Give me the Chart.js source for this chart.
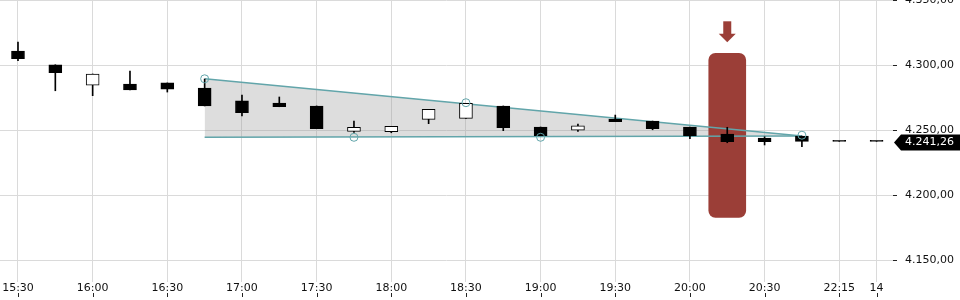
<!DOCTYPE html>
<html>
<head>
<meta charset="utf-8">
<script src="https://cdn.jsdelivr.net/npm/chart.js@4/dist/chart.umd.min.js"></script>
<style>
  html, body { margin: 0; padding: 0; background: #fff; }
  #wrap { width: 960px; height: 300px; }
</style>
</head>
<body>
<div id="wrap"><canvas id="graph" width="960" height="300"></canvas></div>
<script>
// 15 minute candles, category index = position on the axis
var times = ["15:30", "15:45", "16:00", "16:15", "16:30", "16:45", "17:00", "17:15",
  "17:30", "17:45", "18:00", "18:15", "18:30", "18:45", "19:00", "19:15",
  "19:30", "19:45", "20:00", "20:15", "20:30", "20:45", "22:15", "14"];
var tickIdx = [0, 2, 4, 6, 8, 10, 12, 14, 16, 18, 20, 22, 23];

var open  = [4310.8, 4300.2, 4284.4, 4285.4, 4286.2, 4282.3, 4272.5, 4270.8, 4268.5, 4249.0, 4248.7, 4258.2,
             4259.0, 4268.5, 4252.3, 4249.8, 4258.5, 4256.9, 4252.3, 4246.9, 4243.8, 4245.4, 4241.26, 4241.26];
var high  = [4317.7, 4300.2, 4293.1, 4295.4, 4286.2, 4289.2, 4276.9, 4275.4, 4268.5, 4256.9, 4252.8, 4265.9,
             4270.5, 4268.5, 4252.3, 4254.6, 4261.5, 4256.9, 4252.3, 4252.1, 4244.8, 4245.4, 4241.26, 4241.26];
var low   = [4303.3, 4280.2, 4276.4, 4280.8, 4279.2, 4268.5, 4260.8, 4267.9, 4251.0, 4248.2, 4247.9, 4254.9,
             4259.0, 4249.5, 4245.6, 4249.0, 4256.4, 4250.2, 4243.3, 4240.2, 4238.5, 4237.2, 4241.26, 4241.26];
var close = [4304.8, 4294.1, 4293.1, 4280.8, 4281.5, 4268.5, 4263.3, 4267.9, 4251.0, 4252.1, 4252.8, 4265.9,
             4270.5, 4251.8, 4245.6, 4253.2, 4256.4, 4251.0, 4245.6, 4241.0, 4241.0, 4241.3, 4241.26, 4241.26];

// triangle pattern
var upperLine = [[5, 4289.4], [21, 4245.4]];
var lowerLine = [[5, 4244.4], [21, 4245.4]];
var pivotX = [5, 9, 12, 14, 21];
var pivotY = [4289.4, 4244.4, 4271.0, 4244.4, 4246.0];

// sell signal
var signalIdx = 19;
var signalRange = [4182.8, 4309.0];

var lastPrice = 4241.26;
var yTicks = [4150, 4200, 4250, 4300, 4350];

var teal = "#62a5aa";
var red = "#9b3e37";
var gridColor = "#dadada";
var font = { family: "DejaVu Sans", size: 11 };

function fmt(v) {
  return v.toFixed(2).replace(".", ",").replace(/\B(?=(\d{3})+(?!\d))/g, ".");
}

var extras = {
  id: "extras",
  afterDraw: function(chart) {
    var c = chart.ctx, xs = chart.scales.x, ys = chart.scales.y;
    c.save();
    // little ticks under the time labels
    c.fillStyle = "#222";
    tickIdx.forEach(function(i) {
      c.fillRect(Math.round(xs.getPixelForValue(i)), 293, 1, 4);
    });
    // arrow above the signal box
    var ax = xs.getPixelForValue(signalIdx);
    var top = ys.getPixelForValue(signalRange[1]);
    c.fillStyle = red;
    c.fillRect(ax - 4, top - 32, 8, 14);
    c.beginPath();
    c.moveTo(ax - 8.5, top - 19.5);
    c.lineTo(ax + 8.5, top - 19.5);
    c.lineTo(ax, top - 11);
    c.closePath();
    c.fill();
    // last price badge
    var py = ys.getPixelForValue(lastPrice) + 1;
    c.fillStyle = "#000";
    c.beginPath();
    c.moveTo(894, py);
    c.lineTo(901, py - 8);
    c.lineTo(960, py - 8);
    c.lineTo(960, py + 8);
    c.lineTo(901, py + 8);
    c.closePath();
    c.fill();
    c.fillStyle = "#fff";
    c.font = "11px 'DejaVu Sans'";
    c.textBaseline = "middle";
    c.fillText(fmt(lastPrice), 905, py);
    c.restore();
  }
};

var ctx = document.getElementById("graph").getContext("2d");

var chart = new Chart(ctx, {
  type: "bar",
  data: {
    datasets: [
      {
        type: "line",
        data: pivotX.map(function(x, i) { return { x: x, y: pivotY[i] }; }),
        showLine: false,
        pointRadius: 4,
        pointBorderWidth: 1,
        pointBorderColor: teal,
        pointBackgroundColor: "rgba(0,0,0,0)",
        order: 0
      },
      {
        label: "body",
        data: times.map(function(t, i) { return { x: i, y: [open[i], close[i]] }; }),
        backgroundColor: times.map(function(t, i) { return close[i] > open[i] ? "#fff" : "#000"; }),
        borderColor: "#000",
        borderWidth: 1,
        borderSkipped: false,
        barThickness: 13,
        minBarLength: 1,
        grouped: false,
        order: 1
      },
      {
        label: "wick",
        data: times.map(function(t, i) { return { x: i, y: [low[i], high[i]] }; }),
        backgroundColor: "#000",
        barThickness: 1,
        grouped: false,
        order: 2
      },
      {
        type: "line",
        data: upperLine.map(function(p) { return { x: p[0], y: p[1] }; }),
        borderColor: teal,
        borderWidth: 1.5,
        pointRadius: 0,
        fill: "+1",
        backgroundColor: "rgba(150,150,150,0.32)",
        order: 3
      },
      {
        type: "line",
        data: lowerLine.map(function(p) { return { x: p[0], y: p[1] }; }),
        borderColor: teal,
        borderWidth: 1.5,
        pointRadius: 0,
        fill: false,
        order: 4
      },
      {
        label: "signal",
        data: [{ x: signalIdx, y: signalRange }],
        backgroundColor: red,
        borderRadius: 7,
        borderSkipped: false,
        barThickness: 37,
        grouped: false,
        order: 5
      }
    ]
  },
  options: {
    responsive: false,
    animation: false,
    layout: { padding: 0, autoPadding: false },
    plugins: {
      legend: { display: false },
      tooltip: { enabled: false },
      filler: { drawTime: "beforeDatasetsDraw" }
    },
    scales: {
      x: {
        type: "linear",
        offset: false,
        min: -0.482,
        max: 23.44,
        afterBuildTicks: function(s) {
          s.ticks = tickIdx.map(function(v) { return { value: v }; });
        },
        afterFit: function(s) {
          s.height = 18;
          s.paddingLeft = 0;
          s.paddingRight = 0;
        },
        ticks: {
          autoSkip: false,
          maxRotation: 0,
          padding: 0,
          color: "#111",
          font: font,
          callback: function(v) { return times[v]; }
        },
        grid: { color: gridColor, drawTicks: false, offset: false },
        border: { display: false }
      },
      y: {
        position: "right",
        min: 4133.1,
        max: 4350,
        afterBuildTicks: function(s) {
          s.ticks = yTicks.map(function(v) { return { value: v }; });
        },
        afterFit: function(s) {
          s.width = 67;
          s.paddingTop = 0;
          s.paddingBottom = 0;
        },
        ticks: {
          padding: 8,
          color: "#111",
          font: font,
          callback: function(v) { return fmt(v); }
        },
        grid: { color: gridColor, tickColor: "#222", tickLength: 4 },
        border: { display: false }
      }
    }
  },
  plugins: [extras]
});
</script>
</body>
</html>
